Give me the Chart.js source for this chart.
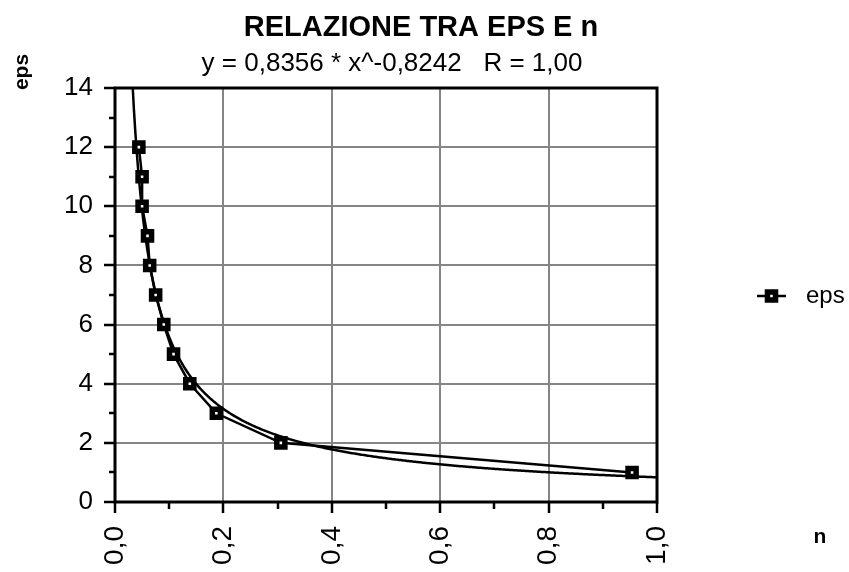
<!DOCTYPE html>
<html>
<head>
<meta charset="utf-8">
<script src="https://cdn.jsdelivr.net/npm/chart.js@4/dist/chart.umd.min.js"></script>
<style>
  html, body { margin: 0; padding: 0; background: #ffffff; }
  #wrap { width: 849px; height: 572px; position: relative; }
</style>
</head>
<body>
<div id="wrap"><canvas id="c" width="849" height="572"></canvas></div>
<script>
// Measured pairs: eps level and the corresponding n
const epsValues = [1, 2, 3, 4, 5, 6, 7, 8, 9, 10, 11, 12];
const nValues = [0.954, 0.306, 0.187, 0.138, 0.108, 0.090, 0.075, 0.064, 0.060, 0.050, 0.050, 0.044];

// Power-law regression y = a * x^b, as printed in the subtitle
const FIT_A = 0.8356;
const FIT_B = -0.8242;
const FIT_R = 1.00;

// Tick values for both axes
const xTickValues = [0, 0.2, 0.4, 0.6, 0.8, 1.0];
const yTickValues = [0, 2, 4, 6, 8, 10, 12, 14];

const fmt = (v, d) => v.toFixed(d).replace('.', ',');
const TITLE = 'RELAZIONE TRA EPS E n';
const SUBTITLE = 'y = ' + fmt(FIT_A, 4) + ' * x^' + fmt(FIT_B, 4) + '   R = ' + fmt(FIT_R, 2);

const epsPoints = epsValues.map((e, i) => ({ x: nValues[i], y: e }));

// Regression curve sampled across the x range
const fitPoints = [];
for (let i = 0; i <= 400; i++) {
  const x = 0.03 + (1.0 - 0.03) * i / 400;
  fitPoints.push({ x: x, y: FIT_A * Math.pow(x, FIT_B) });
}

const FONT = '"Liberation Sans", Arial, Helvetica, sans-serif';

// Frame, outward tick marks, titles and legend
const decorations = {
  id: 'decorations',
  afterDraw(chart) {
    const ctx = chart.ctx;
    const a = chart.chartArea;
    const xs = chart.scales.x, ys = chart.scales.y;
    ctx.save();
    ctx.strokeStyle = '#000';
    ctx.lineCap = 'butt';

    // tick marks, major and minor
    ctx.lineWidth = 2.5;
    for (let v = 0; v <= 14; v++) {
      const y = Math.round(ys.getPixelForValue(v));
      const len = v % 2 === 0 ? 11 : 6;
      ctx.beginPath(); ctx.moveTo(a.left - len, y); ctx.lineTo(a.left, y); ctx.stroke();
    }
    for (let k = 0; k <= 10; k++) {
      const x = Math.round(xs.getPixelForValue(k / 10));
      const len = k % 2 === 0 ? 11 : 7;
      ctx.beginPath(); ctx.moveTo(x, a.bottom); ctx.lineTo(x, a.bottom + len); ctx.stroke();
    }

    // plot frame
    ctx.lineWidth = 3;
    ctx.strokeRect(a.left, a.top, a.right - a.left, a.bottom - a.top);

    // titles
    ctx.fillStyle = '#000';
    ctx.textAlign = 'center';
    ctx.textBaseline = 'alphabetic';
    ctx.font = 'bold 29px ' + FONT;
    ctx.fillText(TITLE, 421, 36);
    ctx.font = '26px ' + FONT;
    ctx.fillText(SUBTITLE, 392, 71);

    // axis titles
    ctx.font = 'bold 21px ' + FONT;
    ctx.save();
    ctx.translate(28, 72);
    ctx.rotate(-Math.PI / 2);
    ctx.fillText('eps', 0, 0);
    ctx.restore();
    ctx.textBaseline = 'middle';
    ctx.fillText('n', 820, 537);

    // legend
    const ds = chart.data.datasets[0];
    const ly = 296;
    ctx.lineWidth = ds.borderWidth;
    ctx.beginPath(); ctx.moveTo(757, ly); ctx.lineTo(786, ly); ctx.stroke();
    ctx.fillStyle = ds.pointBackgroundColor;
    ctx.strokeStyle = ds.pointBorderColor;
    ctx.lineWidth = ds.pointBorderWidth;
    Chart.helpers.drawPoint(ctx, { pointStyle: 'rect', radius: ds.pointRadius, borderWidth: ds.pointBorderWidth }, 771.5, ly);
    ctx.fillStyle = '#000';
    ctx.font = '24px ' + FONT;
    ctx.textAlign = 'left';
    ctx.textBaseline = 'middle';
    ctx.fillText(ds.label, 806, ly);
    ctx.restore();
  }
};

new Chart(document.getElementById('c'), {
  type: 'scatter',
  data: {
    datasets: [
      {
        label: 'eps',
        data: epsPoints,
        showLine: true,
        borderColor: '#000',
        borderWidth: 2.5,
        pointStyle: 'rect',
        pointRadius: 5.7,
        pointBorderWidth: 5.5,
        pointBackgroundColor: '#ffffff',
        pointBorderColor: '#000',
        pointHoverRadius: 5.7
      },
      {
        label: 'fit',
        data: fitPoints,
        showLine: true,
        borderColor: '#000',
        borderWidth: 2.5,
        pointRadius: 0,
        pointHoverRadius: 0
      }
    ]
  },
  options: {
    responsive: false,
    animation: false,
    events: [],
    layout: { padding: { top: 88, right: 192, bottom: 0, left: 0 } },
    plugins: {
      legend: { display: false },
      title: { display: false },
      tooltip: { enabled: false }
    },
    scales: {
      x: {
        type: 'linear',
        min: 0,
        max: 1,
        afterFit(s) { s.height = 70; s.paddingLeft = 0; s.paddingRight = 0; },
        afterBuildTicks(s) { s.ticks = xTickValues.map(v => ({ value: v })); },
        border: { display: false },
        grid: {
          drawTicks: false,
          lineWidth: 2,
          color: c => (c.tick && c.tick.value > 0 && c.tick.value < 1) ? '#858585' : 'rgba(0,0,0,0)'
        },
        ticks: {
          autoSkip: false,
          minRotation: 90,
          maxRotation: 90,
          padding: 24,
          color: '#000',
          font: { family: FONT, size: 28 },
          callback: v => fmt(v, 1)
        }
      },
      y: {
        type: 'linear',
        min: 0,
        max: 14,
        afterFit(s) { s.width = 115; s.paddingTop = 0; s.paddingBottom = 0; },
        afterBuildTicks(s) { s.ticks = yTickValues.map(v => ({ value: v })); },
        border: { display: false },
        grid: {
          drawTicks: false,
          lineWidth: 2,
          color: c => (c.tick && c.tick.value > 0 && c.tick.value < 14) ? '#858585' : 'rgba(0,0,0,0)'
        },
        ticks: {
          padding: 22,
          color: '#000',
          font: { family: FONT, size: 26 },
          callback: v => String(v)
        }
      }
    }
  },
  plugins: [decorations]
});
</script>
</body>
</html>
